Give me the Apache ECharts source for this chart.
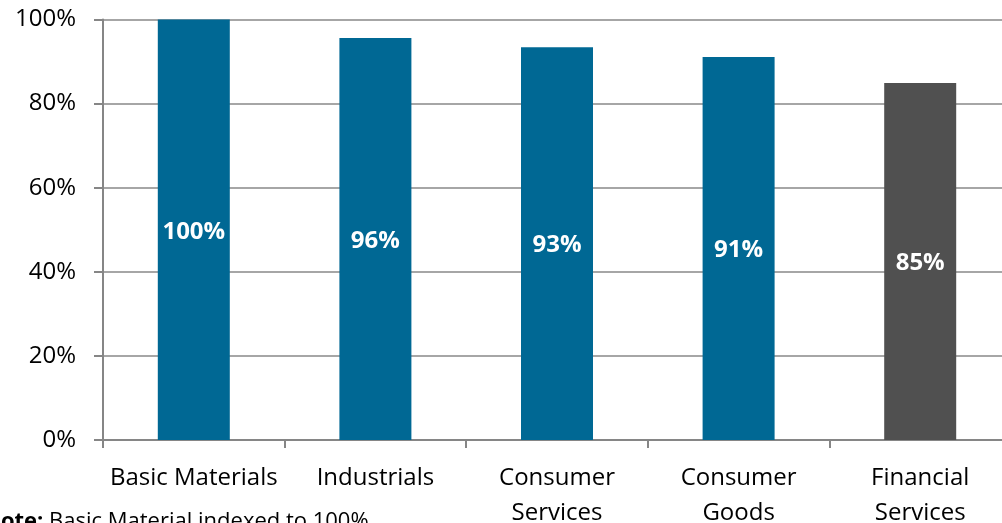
<!DOCTYPE html>
<html>
<head>
<meta charset="utf-8">
<script src="https://cdn.jsdelivr.net/npm/echarts@6/dist/echarts.min.js"></script>
<style>
html,body{margin:0;padding:0;background:#fff;}
#chart{width:1002px;height:523px;}
</style>
</head>
<body>
<div id="chart"></div>
<script>
const categories = ['Basic Materials', 'Industrials', 'Consumer\nServices', 'Consumer\nGoods', 'Financial\nServices'];
const values = [100, 95.6, 93.4, 91.1, 84.9];
const barColors = ['#006894', '#006894', '#006894', '#006894', '#505050'];
const yTicks = [0, 20, 40, 60, 80, 100];

const chart = echarts.init(document.getElementById('chart'));
chart.setOption({
  animation: false,
  grid: { left: 103, right: -9, top: 19.5, bottom: 83, outerBoundsMode: 'none', containLabel: false },
  xAxis: {
    type: 'category',
    data: categories,
    axisLine: { lineStyle: { color: '#868686', width: 2 } },
    axisTick: { show: true, length: 8, lineStyle: { color: '#868686', width: 2 } },
    axisLabel: { fontFamily: 'Open Sans', fontSize: 24, color: '#000', lineHeight: 35, margin: 21, interval: 0 }
  },
  yAxis: {
    type: 'value',
    min: 0, max: 100, interval: 20,
    axisLine: { show: true, lineStyle: { color: '#868686', width: 2 } },
    axisTick: { show: true, length: 9, lineStyle: { color: '#868686', width: 2 } },
    splitLine: { lineStyle: { color: '#a6a6a6', width: 2 } },
    axisLabel: {
      fontFamily: 'Open Sans', fontSize: 24, color: '#000', margin: 27,
      formatter: v => yTicks.includes(v) ? v + '%' : ''
    }
  },
  series: [{
    type: 'bar',
    barWidth: 72,
    data: values.map((v, i) => ({ value: v, itemStyle: { color: barColors[i] } })),
    label: {
      show: true, position: 'inside', offset: [0, 2],
      color: '#fff', fontFamily: 'Open Sans', fontWeight: 'bold', fontSize: 24,
      formatter: p => Math.round(p.value) + '%'
    }
  }],
  graphic: [{
    type: 'text', left: -17, top: 511,
    style: {
      text: '{b|Note:} Basic Material indexed to 100%',
      rich: {
        b: { fontWeight: 'bold', fontFamily: 'Open Sans', fontSize: 22, fill: '#000' }
      },
      fontFamily: 'Open Sans', fontSize: 22, fill: '#000'
    }
  }]
});
</script>
</body>
</html>
